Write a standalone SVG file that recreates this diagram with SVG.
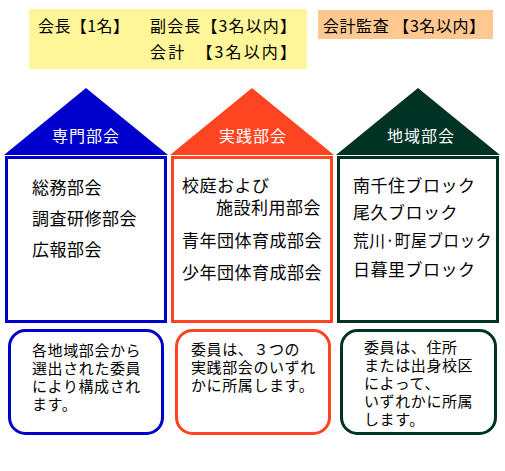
<svg xmlns="http://www.w3.org/2000/svg" width="505" height="471" viewBox="0 0 505 471">
<style>
text{font-family:"Noto Sans CJK JP","Noto Sans CJK SC",sans-serif;fill:#000}
.top{font-size:16px;letter-spacing:1px}
.roof{font-size:16px;letter-spacing:1px;fill:#fff;text-anchor:middle}
.item{font-size:17px;letter-spacing:0.5px}
.note{font-size:15px;letter-spacing:0.6px}
.box{fill:#fff;stroke-width:3}
.bub{fill:#fff;stroke-width:3}
</style>
<rect width="505" height="471" fill="#fff"/>
<g id="officers">
<rect x="29" y="9" width="278" height="60" fill="#FFF599"/>
<text class="top" x="38" y="32" textLength="92" lengthAdjust="spacing">会長【1名】</text>
<text class="top" x="150" y="32" textLength="147" lengthAdjust="spacing">副会長【3名以内】</text>
<text class="top" x="150" y="58" textLength="147" lengthAdjust="spacing">会計　【3名以内】</text>
</g>
<g id="auditor">
<rect x="318" y="10" width="175" height="29" fill="#FFC890"/>
<text class="top" x="323" y="32" textLength="163" lengthAdjust="spacing">会計監査 【3名以内】</text>
</g>
<g id="senmon">
<polygon points="4,155 86,88 168,155" fill="#0000CC"/>
<text class="roof" x="86" y="142">専門部会</text>
<rect class="box" x="6.5" y="157.5" width="159" height="164" stroke="#0000CC"/>
<text class="item" x="32" y="194">総務部会</text>
<text class="item" x="32" y="225">調査研修部会</text>
<text class="item" x="32" y="256">広報部会</text>
</g>
<g id="jissen">
<polygon points="170,155 252,88 334,155" fill="#FF4422"/>
<text class="roof" x="253" y="142">実践部会</text>
<rect class="box" x="172.5" y="157.5" width="159" height="164" stroke="#FF4422"/>
<text class="item" x="182" y="192">校庭および</text>
<text class="item" x="216" y="214">施設利用部会</text>
<text class="item" x="182" y="247">青年団体育成部会</text>
<text class="item" x="182" y="279">少年団体育成部会</text>
</g>
<g id="chiiki">
<polygon points="336,155 418,88 500,155" fill="#003324"/>
<text class="roof" x="421" y="142">地域部会</text>
<rect class="box" x="338.5" y="157.5" width="159" height="164" stroke="#003324"/>
<text class="item" x="353" y="192">南千住ブロック</text>
<text class="item" x="353" y="219">尾久ブロック</text>
<text class="item" x="353" y="247" textLength="139" lengthAdjust="spacingAndGlyphs">荒川·町屋ブロック</text>
<text class="item" x="353" y="276">日暮里ブロック</text>
</g>
<g id="note-senmon">
<rect class="bub" x="9.5" y="330.5" width="153" height="103" rx="16" stroke="#0000CC"/>
<text class="note"><tspan x="32" y="356">各地域部会から</tspan><tspan x="32" y="374">選出された委員</tspan><tspan x="32" y="392">により構成され</tspan><tspan x="32" y="410">ます。</tspan></text>
</g>
<g id="note-jissen">
<rect class="bub" x="176.5" y="330.5" width="153" height="103" rx="16" stroke="#FF4422"/>
<text class="note"><tspan x="191" y="355">委員は、３つの</tspan><tspan x="191" y="373">実践部会のいずれ</tspan><tspan x="191" y="391">かに所属します。</tspan></text>
</g>
<g id="note-chiiki">
<rect class="bub" x="341.5" y="330.5" width="154" height="103" rx="16" stroke="#003324"/>
<text class="note"><tspan x="364" y="353">委員は、住所</tspan><tspan x="364" y="371">または出身校区</tspan><tspan x="364" y="389">によって、</tspan><tspan x="364" y="407">いずれかに所属</tspan><tspan x="364" y="425">します。</tspan></text>
</g>
<g id="connectors"></g>
</svg>
